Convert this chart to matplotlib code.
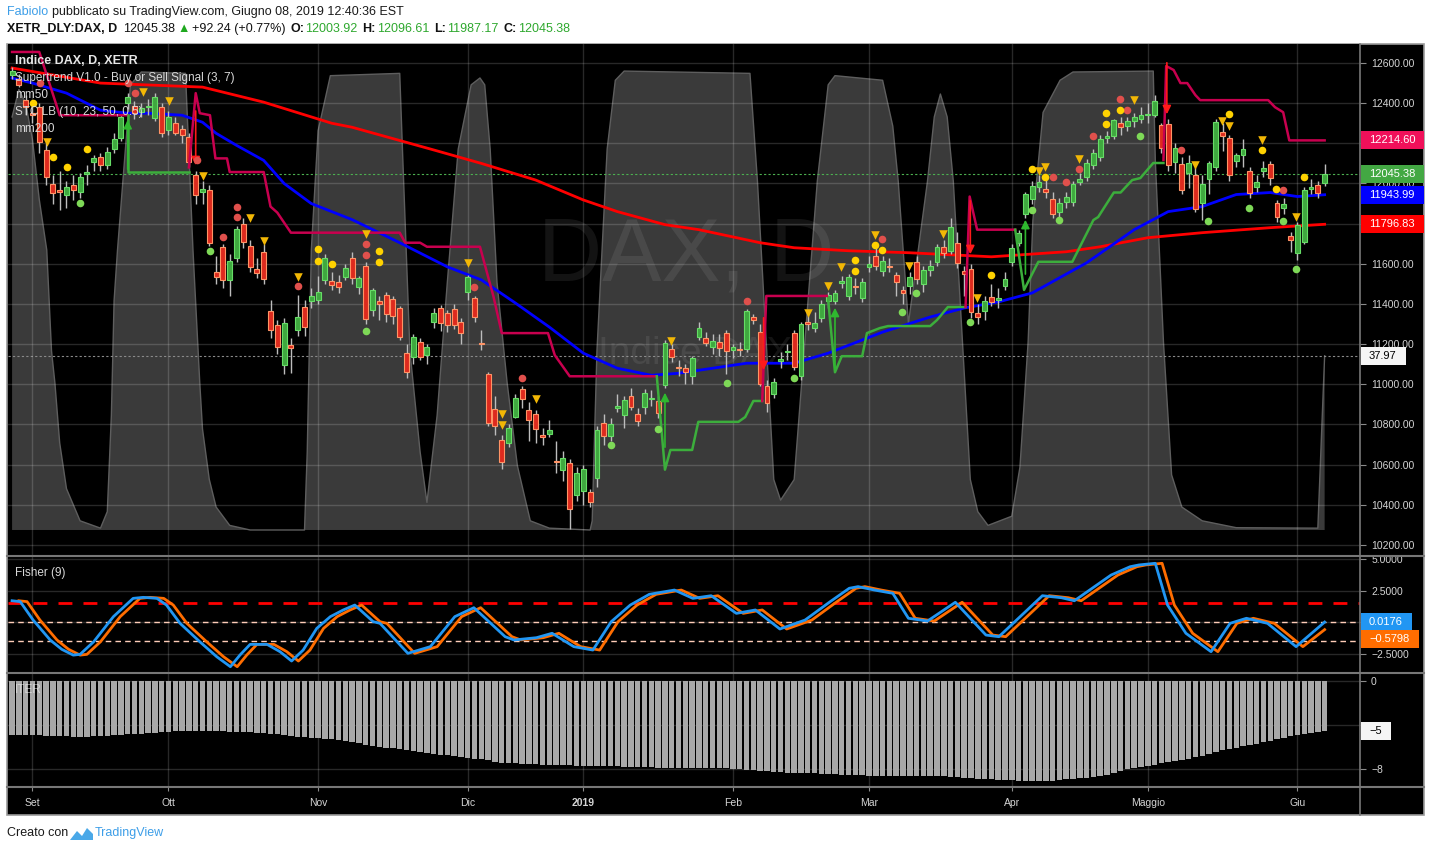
import numpy as np
import matplotlib
matplotlib.use('Agg')
import matplotlib.pyplot as plt
from matplotlib.patches import Rectangle, Polygon
from matplotlib.lines import Line2D

W, H = 1431, 851
plt.rcParams['font.family'] = ['Liberation Sans', 'DejaVu Sans']

# ---------------- data ----------------
month_idx = [3, 23, 45, 67, 84, 106, 126, 147, 167, 189]
month_lbl = ['Set', 'Ott', 'Nov', 'Dic', '2019', 'Feb', 'Mar', 'Apr', 'Maggio', 'Giu']

opens = [12540, 12520, 12415, 12350, 12380, 12165, 11995, 11965, 11945, 11990,
         11960, 12045, 12105, 12130, 12090, 12170, 12225, 12400, 12385, 12355,
         12380, 12325, 12380, 12265, 12300, 12270, 12230, 12040, 11960, 11970,
         11560, 11685, 11520, 11630, 11800, 11690, 11575, 11660, 11365, 11295,
         11095, 11195, 11270, 11385, 11415, 11420, 11520, 11515, 11510, 11535,
         11630, 11485, 11590, 11370, 11415, 11445, 11425, 11380, 11155, 11135,
         11210, 11145, 11310, 11380, 11355, 11375, 11310, 11460, 11430, 11205,
         11050, 10875, 10725, 10710, 10835, 10975, 10870, 10850, 10745, 10755,
         10615, 10575, 10610, 10450, 10470, 10465, 10535, 10805, 10745, 10880,
         10845, 10940, 10852, 10885, 10925, 10915, 10995, 11175, 11085, 11080,
         11040, 11235, 11230, 11185, 11210, 11255, 11170, 11175, 11175, 11335,
         11260, 10990, 10950, 11115, 11160, 11255, 11040, 11310, 11280, 11330,
         11415, 11415, 11505, 11440, 11490, 11430, 11585, 11640, 11565, 11590,
         11545, 11470, 11490, 11610, 11500, 11570, 11610, 11685, 11665, 11705,
         11565, 11575, 11355, 11365, 11435, 11420, 11490, 11610, 11705, 11850,
         11925, 11985, 11975, 11925, 11858, 11910, 11910, 12005, 12030, 12090,
         12130, 12225, 12235, 12300, 12285, 12310, 12320, 12340, 12340, 12290,
         12295, 12105, 12095, 12052, 12040, 11905, 12020, 12080, 12255, 12225,
         12110, 12140, 12060, 11985, 12060, 12095, 11905, 11880, 11740, 11655,
         11710, 11975, 11990, 12003.92]
highs = [12580, 12545, 12440, 12390, 12400, 12200, 12040, 12060, 12010, 12040,
         12050, 12090, 12140, 12150, 12180, 12250, 12340, 12450, 12410, 12400,
         12420, 12450, 12400, 12360, 12330, 12290, 12250, 12060, 12010, 11990,
         11640, 11700, 11650, 11790, 11830, 11720, 11630, 11700, 11420, 11320,
         11330, 11230, 11445, 11420, 11480, 11540, 11650, 11560, 11545, 11600,
         11660, 11540, 11610, 11480, 11440, 11460, 11440, 11390, 11200, 11250,
         11230, 11200, 11380, 11395, 11370, 11400, 11330, 11545, 11440, 11270,
         11060, 10940, 10750, 10800, 10950, 10990, 10910, 10870, 10780, 10820,
         10720, 10670, 10630, 10590, 10600, 10480, 10790, 10850, 10830, 10950,
         10940, 10980, 10880, 10975, 10970, 10940, 11220, 11200, 11120, 11100,
         11140, 11310, 11260, 11250, 11250, 11270, 11200, 11210, 11375, 11350,
         11300, 11020, 11030, 11160, 11200, 11270, 11310, 11350, 11360, 11420,
         11460, 11470, 11540, 11550, 11530, 11530, 11640, 11680, 11640, 11630,
         11560, 11490, 11560, 11640, 11590, 11620, 11700, 11720, 11830, 11760,
         11590, 11600, 11400, 11440, 11500, 11480, 11560, 11700, 11770, 11960,
         12010, 12040, 12020, 11960, 11930, 11960, 12010, 12050, 12120, 12170,
         12240, 12260, 12320, 12330, 12330, 12350, 12380, 12400, 12440, 12300,
         12320, 12200, 12130, 12140, 12080, 12040, 12110, 12320, 12300, 12240,
         12150, 12220, 12080, 12040, 12110, 12110, 11920, 11930, 11760, 11810,
         11985, 12020, 12010, 12096.61]
lows = [12520, 12480, 12340, 12300, 12150, 11990, 11900, 11870, 11880, 11920,
        11930, 11990, 12060, 12060, 12070, 12150, 12210, 12370, 12320, 12330,
        12340, 12310, 12230, 12240, 12240, 12200, 12080, 11900, 11900, 11690,
        11500, 11480, 11440, 11610, 11680, 11560, 11530, 11500, 11230, 11150,
        11050, 11055, 11240, 11240, 11380, 11400, 11500, 11470, 11455, 11520,
        11500, 11450, 11300, 11340, 11320, 11310, 11300, 11220, 11030, 11100,
        11120, 11100, 11280, 11265, 11260, 11275, 11200, 11420, 11310, 11170,
        10790, 10750, 10580, 10690, 10830, 10880, 10720, 10710, 10700, 10740,
        10560, 10520, 10280, 10420, 10400, 10390, 10490, 10700, 10720, 10860,
        10780, 10870, 10790, 10850, 10890, 10830, 10980, 11110, 11040, 11000,
        11000, 11220, 11190, 11150, 11140, 11050, 11130, 11140, 11160, 11300,
        10990, 10860, 10930, 11080, 11120, 11070, 11020, 11270, 11260, 11310,
        11380, 11400, 11480, 11420, 11450, 11410, 11560, 11570, 11540, 11560,
        11440, 11400, 11450, 11500, 11460, 11540, 11590, 11630, 11650, 11580,
        11440, 11330, 11300, 11320, 11390, 11380, 11470, 11590, 11690, 11830,
        11900, 11960, 11930, 11830, 11820, 11880, 11890, 11990, 12010, 12070,
        12110, 12200, 12220, 12240, 12260, 12280, 12300, 12300, 12330, 12150,
        12060, 12050, 11950, 11980, 11860, 11820, 11950, 12060, 12160, 12010,
        12080, 12080, 11930, 11960, 12030, 11990, 11810, 11850, 11660, 11620,
        11700, 11950, 11930, 11987.17]
closes = [12560, 12490, 12380, 12340, 12205, 12030, 11955, 11960, 11985, 11970,
          12030, 12055, 12125, 12090, 12155, 12220, 12330, 12430, 12350, 12375,
          12385, 12430, 12250, 12330, 12250, 12240, 12105, 11945, 11975, 11705,
          11535, 11520, 11615, 11775, 11710, 11585, 11555, 11525, 11270, 11185,
          11305, 11180, 11335, 11285, 11440, 11460, 11630, 11495, 11485, 11580,
          11527, 11530, 11325, 11470, 11400, 11350, 11340, 11235, 11060, 11235,
          11135, 11185, 11355, 11305, 11295, 11295, 11255, 11535, 11335, 11200,
          10808, 10790, 10615, 10780, 10930, 10925, 10820, 10775, 10740, 10770,
          10612, 10635, 10380, 10560, 10580, 10415, 10770, 10745, 10800, 10893,
          10920, 10885, 10815, 10955, 10932, 10855, 11205, 11135, 11082, 11060,
          11130, 11280, 11205, 11215, 11180, 11165, 11185, 11172, 11365, 11320,
          11000, 10905, 11010, 11125, 11167, 11085, 11300, 11300, 11305, 11400,
          11445, 11455, 11515, 11535, 11485, 11510, 11600, 11590, 11615, 11585,
          11510, 11455, 11535, 11525, 11570, 11590, 11685, 11655, 11785, 11605,
          11550, 11360, 11335, 11415, 11410, 11430, 11525, 11680, 11755, 11950,
          11988, 12005, 11960, 11850, 11905, 11935, 11998, 12020, 12100, 12150,
          12220, 12235, 12315, 12282, 12312, 12330, 12340, 12345, 12410, 12175,
          12090, 12175, 11970, 12102, 11875, 11995, 12100, 12305, 12235, 12040,
          12140, 12170, 11955, 12005, 12075, 12025, 11835, 11900, 11720, 11795,
          11970, 11978, 11955, 12045.38]

# moving averages (bar index, value)
mm50_i = [0, 3, 8, 13, 17, 20, 25, 28, 30, 33, 37, 40, 44, 50, 57, 64, 69, 74, 79, 84,
          89, 94, 98, 101, 108, 115, 120, 128, 135, 140, 145, 150, 158, 165, 170, 175,
          180, 185, 189, 193]
mm50_v = [12525, 12500, 12450, 12365, 12350, 12350, 12340, 12305, 12250, 12190, 12115,
          12000, 11900, 11820, 11705, 11585, 11520, 11405, 11285, 11155, 11080, 11045,
          11055, 11070, 11105, 11105, 11155, 11260, 11335, 11380, 11410, 11455, 11605,
          11770, 11860, 11885, 11945, 11955, 11935, 11943.99]
mm200_i = [0, 13, 28, 37, 47, 50, 62, 69, 77, 84, 89, 96, 101, 110, 115, 123, 132, 144,
           155, 160, 167, 175, 185, 193]
mm200_v = [12575, 12500, 12480, 12405, 12300, 12280, 12167, 12100, 12017, 11918, 11860,
           11795, 11770, 11705, 11680, 11665, 11655, 11635, 11660, 11685, 11730, 11755,
           11780, 11796.83]

# supertrend segments: (colour, bar index list, value list)
st_segments = [
    ('#c8004f', [0, 4, 7, 17], [12655, 12655, 12340, 12340]),
    ('#3cae3c', [17, 17, 26], [12340, 12057, 12057]),
    ('#c8004f', [26, 27, 27.6, 29.1, 29.9, 31.6, 32, 37, 38, 39, 41, 57, 57.8, 60, 61,
                 68.8, 70.8, 72, 78.8, 79.8, 82, 94.8],
     [12080, 12450, 12350, 12340, 12125, 12125, 12057, 12057, 11885, 11855, 11755, 11755,
      11705, 11705, 11685, 11685, 11435, 11255, 11255, 11145, 11040, 11040]),
    ('#3cae3c', [94.8, 96, 96.8, 100, 100.9, 106.8, 107.8, 109, 110.3],
     [11040, 10575, 10673, 10673, 10813, 10813, 10837, 10917, 10917]),
    ('#c8004f', [110.3, 110.9, 119.8], [10917, 11440, 11440]),
    ('#3cae3c', [120, 121, 122, 125, 125.7, 127.6, 128.8, 135, 136, 137.6, 140.2],
     [11420, 11060, 11140, 11140, 11255, 11280, 11290, 11290, 11320, 11385, 11385]),
    ('#c8004f', [140.2, 140.8, 141.9, 147.5], [11385, 11935, 11770, 11770]),
    ('#3cae3c', [147.5, 148.8, 150.9, 155.9, 159, 159.7, 162, 163, 164.7, 165.9, 167.8, 169.3],
     [11770, 11470, 11610, 11610, 11818, 11833, 11955, 11955, 12017, 12027, 12102, 12102]),
    ('#c8004f', [169.3, 169.7, 170.8, 171.8, 172.8, 174, 174.7, 184.7, 185.7, 186.9, 187.8, 193],
     [12117, 12585, 12565, 12500, 12500, 12440, 12415, 12415, 12380, 12355, 12214.6, 12214.6]),
]
sell_i = [27, 110.5, 140.9, 169.8]
sell_top = [12375, 11345, 11928, 12615]
sell_bot = [12077, 11057, 11634, 12331]
buy_i = [17, 96, 121, 149]
buy_bot = [12057, 10673, 11060, 11535]
buy_top = [12330, 10972, 11395, 11833]

# signal dots / triangles
red_i = [4.1, 17.1, 18.1, 27.2, 33.1, 33.1, 31.0, 42.1, 52.1, 52.1, 67.9, 75.0, 108.1,
         127.9, 153.1, 155.0, 156.9, 159.0, 162.9, 164.0, 171.9, 186.9]
red_p = [12500, 12500, 12450, 12117, 11883, 11833, 11734, 11490, 11699, 11644, 11485,
         11032, 11415, 11724, 12032, 12008, 12072, 12237, 12421, 12366, 12167, 11968]
yel_i = [3.1, 6.0, 11.0, 8.1, 45.0, 45.0, 47.1, 54.0, 54.0, 124.0, 124.0, 126.9, 127.9,
         144.0, 150.0, 151.9, 160.9, 160.9, 162.9, 179.0, 183.8, 185.9, 189.9]
yel_p = [12401, 12132, 12172, 12082, 11674, 11614, 11599, 11664, 11609, 11619, 11564,
         11694, 11669, 11544, 12072, 12032, 12351, 12296, 12366, 12346, 12167, 11973, 12032]
grn_i = [10.0, 29.1, 52.1, 88.1, 95.0, 105.1, 115.0, 130.9, 132.9, 140.9, 150.0, 154.0,
         165.9, 175.9, 181.9, 186.9, 188.8]
grn_p = [11903, 11664, 11266, 10698, 10778, 11007, 11032, 11360, 11455, 11310, 11868,
         11818, 12237, 11813, 11878, 11813, 11574]
tri_i = [5.1, 19.3, 23.1, 28.1, 35.0, 37.1, 42.1, 52.1, 67.1, 72.1, 72.1, 77.1, 96.9,
         117.1, 120.0, 121.9, 126.9, 131.9, 136.9, 141.9, 151.0, 151.9, 156.9, 164.9,
         174.0, 177.9, 179.0, 183.8, 188.8]
tri_p = [12207, 12456, 12411, 12037, 11828, 11714, 11535, 11749, 11604, 10852, 10797,
         10927, 11216, 11355, 11490, 11584, 11744, 11589, 11749, 11430, 12062, 12082,
         12122, 12416, 12092, 12311, 12286, 12217, 11833]

# STC (0-100), drawn as grey area
stc_i = [0, 1, 2, 3, 4, 5.1, 5.8, 6.3, 7, 8, 10, 13, 14, 14.6, 15, 15.5, 17.4, 19, 25.5,
         26.6, 27.6, 28, 29, 30, 32, 35, 43, 43.4, 44, 45, 46.8, 57, 57.4, 58.5, 60, 61,
         62.5, 64, 65.6, 67.5, 68.8, 69.5, 70.3, 71.3, 72.8, 74.3, 76.2, 79, 85, 85.3, 86,
         87.5, 88.7, 90, 108.5, 109.6, 112, 113, 115, 118.4, 120, 121, 128, 129.5, 130.3,
         131.8, 134.6, 135.6, 136.5, 137.5, 138.4, 140.9, 142, 143.5, 147, 148.2, 149.4,
         150.1, 151.6, 154.1, 156, 167.8, 168.1, 169.3, 170.5, 172, 175, 180, 192, 193]
stc_v = [90, 96, 93, 85, 72, 61, 39, 32, 19, 9, 2, 0.4, 4, 25, 50, 61, 97, 99.8, 99.5,
         61, 32, 22, 11, 5, 1, 0, 0, 17, 61, 87, 99, 99.5, 83, 39, 17, 6, 25, 54, 83, 97,
         98.5, 97, 83, 54, 32, 14, 2, 0.4, 0, 2, 39, 83, 98, 100, 99.5, 76, 11, 6.5, 11, 76,
         97, 99, 98, 88, 76, 45, 76, 90, 95, 90, 76, 11, 4, 1, 3, 13.7, 41, 67.5, 91, 98,
         99.8, 100, 80.6, 41, 12, 5, 2, 0.5, 0.4, 37.97]

# Fisher (9)
fish_i = [0, 1.2, 3.1, 5.6, 7.3, 9, 10, 12, 14.9, 17.8, 19.3, 21.3, 22.7, 24.7, 27.6, 30.1,
          32.1, 33.5, 35, 37.5, 39.4, 41.1, 42.8, 44.8, 46.8, 48.7, 50.4, 53.1, 54.1, 58.2,
          61.5, 65.1, 67.9, 72.5, 73.8, 77.1, 79.4, 82.6, 85.4, 88.1, 90.9, 93.7, 97.4,
          100.1, 102.8, 106.5, 109.3, 112.9, 116.6, 120.3, 123.1, 124.4, 126.8, 129.5,
          131.8, 134.6, 138.7, 143.2, 145.1, 151.5, 154.3, 156.2, 161.6, 164.4, 165.7,
          168.1, 169.9, 172.6, 176.3, 179.1, 181.5, 184.6, 188.8, 193]
fish_v = [1.71, 1.64, 0.18, -1.40, -2.14, -2.60, -2.54, -1.54, 0.45, 1.90, 1.98, 1.90, 1.37,
          -0.08, -1.54, -2.73, -3.52, -2.60, -1.75, -1.75, -2.33, -3.07, -2.20, -0.48, 0.45,
          0.98, 1.37, 0.05, -0.08, -2.46, -1.93, 0.45, 1.16, -1.14, -1.40, -1.22, -0.87,
          -1.93, -2.20, 0.05, 1.37, 2.22, 2.56, 1.90, 2.11, 0.71, 0.98, -0.53, 0.18, 1.64,
          2.70, 2.83, 2.56, 2.30, 0.32, 0.10, 1.59, -1.01, -1.14, 2.11, 1.95, 1.71, 3.75,
          4.41, 4.55, 4.68, 1.37, -0.87, -2.33, -0.08, 0.32, -0.08, -1.93, 0.0176]
trig_last = -0.5798

# ITER histogram
iter_v = [-4.89, -4.89, -4.90, -4.90, -4.92, -4.95, -4.98, -5.00, -5.02, -5.03,
          -5.04, -5.04, -5.02, -5.00, -4.97, -4.93, -4.88, -4.83, -4.80, -4.76,
          -4.72, -4.68, -4.63, -4.59, -4.57, -4.56, -4.55, -4.54, -4.53, -4.53,
          -4.54, -4.56, -4.59, -4.61, -4.63, -4.65, -4.68, -4.73, -4.78, -4.84,
          -4.89, -4.96, -5.04, -5.09, -5.14, -5.19, -5.23, -5.28, -5.35, -5.43,
          -5.50, -5.65, -5.80, -5.88, -5.95, -6.03, -6.10, -6.18, -6.25, -6.35,
          -6.45, -6.55, -6.60, -6.66, -6.73, -6.80, -6.88, -6.95, -7.02, -7.09,
          -7.19, -7.30, -7.40, -7.43, -7.46, -7.49, -7.52, -7.55, -7.57, -7.59,
          -7.61, -7.63, -7.64, -7.66, -7.67, -7.69, -7.70, -7.71, -7.72, -7.74,
          -7.75, -7.76, -7.78, -7.80, -7.82, -7.85, -7.85, -7.85, -7.85, -7.85,
          -7.85, -7.86, -7.86, -7.87, -7.87, -7.88, -7.93, -7.97, -8.02, -8.06,
          -8.12, -8.18, -8.24, -8.28, -8.30, -8.32, -8.33, -8.34, -8.36, -8.39,
          -8.42, -8.45, -8.48, -8.51, -8.53, -8.55, -8.56, -8.58, -8.58, -8.58,
          -8.58, -8.58, -8.58, -8.59, -8.59, -8.60, -8.60, -8.60, -8.65, -8.70,
          -8.76, -8.81, -8.84, -8.88, -8.91, -8.94, -8.97, -9.00, -9.02, -9.04,
          -9.06, -9.05, -9.04, -9.03, -8.97, -8.92, -8.86, -8.81, -8.74, -8.66,
          -8.59, -8.51, -8.34, -8.17, -8.00, -7.89, -7.78, -7.68, -7.57, -7.46,
          -7.35, -7.24, -7.13, -7.02, -6.91, -6.75, -6.58, -6.42, -6.25, -6.14,
          -6.03, -5.92, -5.81, -5.71, -5.57, -5.42, -5.28, -5.13, -5.02, -4.90,
          -4.79, -4.68, -4.60, -4.53]

# axis ticks; labels hidden behind the value boxes are left empty
price_ticks = [10200, 10400, 10600, 10800, 11000, 11200, 11400, 11600, 11800, 12000, 12200, 12400, 12600]
price_lbls = ['10200.00', '10400.00', '10600.00', '10800.00', '11000.00', '11200.00', '11400.00',
              '11600.00', '', '12000.00', '', '12400.00', '12600.00']
fish_ticks = [5, 2.5, 0, -2.5]
fish_lbls = ['5.0000', '2.5000', '', '\u22122.5000']
iter_ticks = [0, -4, -8]
iter_lbls = ['0', '', '\u22128']

# ---------------- figure ----------------
fig = plt.figure(figsize=(W / 100, H / 100), dpi=100, facecolor='white')


def fx(x):
    return x / W


def fy(y):
    return 1 - y / H


def panel(top, bottom):
    return [fx(8), fy(bottom), fx(1360) - fx(8), (bottom - top) / H]


fig.add_artist(Rectangle((fx(7), fy(815)), fx(1424) - fx(7), (815 - 44) / H,
                         transform=fig.transFigure, facecolor='black',
                         edgecolor='#9a9a9a', lw=1.2, zorder=-5))

ax_stc = fig.add_axes(panel(44, 555), facecolor='black')
ax = fig.add_axes(panel(44, 555), facecolor='none', sharex=ax_stc)
ax_f = fig.add_axes(panel(557, 672), facecolor='black', sharex=ax_stc)
ax_it = fig.add_axes(panel(674, 787), facecolor='black', sharex=ax_stc)

ax_stc.set_xlim(-0.6, 198.2)
ax_stc.set_ylim(-5.45, 105.9)
ax.set_ylim(10150, 12694.6)
ax_f.set_ylim(-3.94, 5.18)
ax_it.set_ylim(-9.6, 0.63)

for a in (ax_stc, ax, ax_f, ax_it):
    for s in a.spines.values():
        s.set_visible(False)
ax_stc.set_xticks(month_idx)

# STC grey area + watermark (behind price panel)
ax_stc.fill_between(stc_i, 0, stc_v, facecolor='#3a3a3a', edgecolor='none', zorder=1)
ax_stc.plot(stc_i, stc_v, color='#5e5e5e', lw=1, zorder=1.5)
ax_stc.axhline(stc_v[-1], color='#8a8a8a', lw=0.8, ls=(0, (2, 2)), zorder=1.6)
ax_stc.text(fx(686), fy(258), 'DAX, D', transform=fig.transFigure, fontsize=64,
            color='white', alpha=0.08, ha='center', va='center', zorder=2)
ax_stc.text(fx(695), fy(354), 'Indice DAX', transform=fig.transFigure, fontsize=28,
            color='white', alpha=0.08, ha='center', va='center', zorder=2)
ax_stc.set_yticks([])
ax_stc.tick_params(axis='x', length=0, labelbottom=False)

# price panel grid + axis
ax.set_axisbelow(True)
ax.grid(color='white', alpha=0.16, lw=1)
ax.yaxis.tick_right()
ax.set_yticks(price_ticks)
ax.set_yticklabels(price_lbls)
ax.tick_params(axis='y', colors='#8a8a8a', labelcolor='#d4d4d4', labelsize=7.5, length=4, pad=4)
ax.tick_params(axis='x', length=0, labelbottom=False)

# moving averages
ax.plot(mm200_i, mm200_v, color='#ff0000', lw=2, zorder=3)
ax.plot(mm50_i, mm50_v, color='#0000ff', lw=2, zorder=3)
ax.axhline(closes[-1], color='#4caf50', lw=0.8, ls=(0, (2, 2)), zorder=2)

# candles
o = np.array(opens)
c = np.array(closes)
hi = np.array(highs)
lo = np.array(lows)
idx = np.arange(len(c))
up = c > o
b_lo = np.minimum(o, c)
b_h = np.maximum(np.abs(c - o), 6)
ax.vlines(idx, lo, hi, color='#bdbdbd', lw=1, zorder=4)
ax.bar(idx[up], b_h[up], bottom=b_lo[up], width=0.72, color='#3fa83f',
       edgecolor='#66dd66', lw=0.8, zorder=5)
ax.bar(idx[~up], b_h[~up], bottom=b_lo[~up], width=0.72, color='#dd2a1e',
       edgecolor='#ff9466', lw=0.8, zorder=5)

# supertrend
for col, si, sv in st_segments:
    ax.plot(si, sv, color=col, lw=1.8, zorder=6)
for i, t, b in zip(sell_i, sell_top, sell_bot):
    ax.annotate('', xy=(i, b), xytext=(i, t), zorder=7,
                arrowprops=dict(arrowstyle='-|>,head_length=0.5,head_width=0.25',
                                color='#ff1a1a', lw=1.2))
for i, t, b in zip(buy_i, buy_top, buy_bot):
    ax.annotate('', xy=(i, t), xytext=(i, b), zorder=7,
                arrowprops=dict(arrowstyle='-|>,head_length=0.5,head_width=0.25',
                                color='#2fb82f', lw=1.2))

# signal markers
ax.scatter(red_i, red_p, s=30, color='#e0504c', zorder=8, linewidths=0)
ax.scatter(yel_i, yel_p, s=30, color='#ffd200', zorder=8, linewidths=0)
ax.scatter(grn_i, grn_p, s=30, color='#7ed957', zorder=8, linewidths=0)
ax.scatter(tri_i, tri_p, s=38, marker='v', color='#f2b705', zorder=8, linewidths=0)

# Fisher panel
ax_f.set_axisbelow(True)
ax_f.grid(color='white', alpha=0.16, lw=1)
ax_f.yaxis.tick_right()
ax_f.set_yticks(fish_ticks)
ax_f.set_yticklabels(fish_lbls)
ax_f.tick_params(axis='y', colors='#8a8a8a', labelcolor='#d4d4d4', labelsize=7.5, length=4, pad=4)
ax_f.tick_params(axis='x', length=0, labelbottom=False)
ax_f.axhline(1.5, color='#ff0000', lw=2, ls=(0, (5, 4)), zorder=2)
ax_f.axhline(0, color='#ffcdb8', lw=1, ls=(0, (4, 3)), zorder=2)
ax_f.axhline(-1.5, color='#ffcdb8', lw=1, ls=(0, (4, 3)), zorder=2)
fi = np.array(fish_i)
fv = np.array(fish_v)
ax_f.plot(np.append(fi[:-1] + 1, 193), np.append(fv[:-1], trig_last), color='#ff6d00', lw=2, zorder=3)
ax_f.plot(fi, fv, color='#2196f3', lw=2, zorder=4)

# ITER panel
ax_it.set_axisbelow(True)
ax_it.grid(color='white', alpha=0.16, lw=1)
ax_it.bar(idx, iter_v, width=0.8, color='#a8a8a8', edgecolor='none', zorder=2)
ax_it.yaxis.tick_right()
ax_it.set_yticks(iter_ticks)
ax_it.set_yticklabels(iter_lbls)
ax_it.tick_params(axis='y', colors='#8a8a8a', labelcolor='#d4d4d4', labelsize=7.5, length=4, pad=4)
ax_it.set_xticklabels(month_lbl)
ax_it.tick_params(axis='x', colors='#8a8a8a', labelcolor='#d4d4d4', labelsize=7.5,
                  length=3, pad=5)
ax_it.get_xticklabels()[4].set_fontweight('bold')

# panel separators
for yy in (556, 673, 787):
    fig.add_artist(Line2D([fx(7), fx(1424)], [fy(yy), fy(yy)], transform=fig.transFigure,
                          color='#777777', lw=1.5))
fig.add_artist(Line2D([fx(1360), fx(1360)], [fy(44), fy(815)], transform=fig.transFigure,
                      color='#777777', lw=1.2))


# coloured value boxes on the right axis
def vbox(a, val, txt, bg, fg, w, dy=0):
    yd = a.transData.transform((0, val))[1] - dy
    fig.add_artist(Rectangle((fx(1361), (yd - 9) / H), w / W, 18 / H, transform=fig.transFigure,
                             facecolor=bg, edgecolor='none', zorder=5))
    fig.text(fx(1369), yd / H, txt, color=fg, fontsize=8, va='center', ha='left', zorder=6)


vbox(ax, 12214.60, '12214.60', '#f0105a', 'white', 63)
vbox(ax, 12045.38, '12045.38', '#43a843', 'white', 63)
vbox(ax, 11943.99, '11943.99', '#0000ff', 'white', 63)
vbox(ax, 11796.83, '11796.83', '#ff0000', 'white', 63)
vbox(ax_stc, stc_v[-1], '37.97', '#f5f5f5', 'black', 45)
vbox(ax_f, fish_v[-1], '0.0176', '#2196f3', 'white', 51)
vbox(ax_f, trig_last, '\u22120.5798', '#ff6d00', 'white', 58, dy=9)
vbox(ax_it, iter_v[-1], '\u22125', '#f5f5f5', 'black', 30)

# legends inside the panels
fig.text(fx(15), fy(61), 'Indice DAX, D, XETR', color='#e8e8e8', fontsize=9, fontweight='bold', va='center')
leg = ['Supertrend V1.0 - Buy or Sell Signal (3, 7)', 'mm50', 'STC LB (10, 23, 50, 0.5)', 'mm200']
for k, s in enumerate(leg):
    fig.text(fx(15), fy(78 + 17 * k), s, color='#d8d8d8', fontsize=8.5, va='center')
fig.text(fx(15), fy(573), 'Fisher (9)', color='#d8d8d8', fontsize=8.5, va='center')
fig.text(fx(15), fy(690), 'ITER', color='white', alpha=0.55, fontsize=8.5, va='center')


# header / footer text runs
def chain(x, y, parts, size):
    r = fig.canvas.get_renderer()
    for s, col, wt, gap in parts:
        t = fig.text(fx(x), fy(y), s, color=col, fontsize=size, fontweight=wt, va='center', ha='left')
        x += t.get_window_extent(r).width + gap


green = '#2ea82e'
chain(7, 12, [('Fabiolo', '#3d9ee8', 'normal', 4),
              ('pubblicato su TradingView.com, Giugno 08, 2019 12:40:36 EST', '#1a1a1a', 'normal', 0)], 9)
chain(7, 29, [('XETR_DLY:DAX, D', '#111111', 'bold', 6),
              ('12045.38', '#111111', 'normal', 2),
              ('\u25b2', '#1fa81f', 'normal', 2),
              ('+92.24 (+0.77%)', '#111111', 'normal', 5),
              ('O:', '#111111', 'bold', 1), ('12003.92', green, 'normal', 5),
              ('H:', '#111111', 'bold', 1), ('12096.61', green, 'normal', 5),
              ('L:', '#111111', 'bold', 1), ('11987.17', green, 'normal', 5),
              ('C:', '#111111', 'bold', 1), ('12045.38', green, 'normal', 0)], 9)
chain(7, 833, [('Creato con', '#1a1a1a', 'normal', 26), ('TradingView', '#3d9ee8', 'normal', 0)], 9)
logo = [(70, 840), (77, 831), (82, 836), (87, 828), (93, 834), (93, 840)]
fig.add_artist(Polygon([(fx(px), fy(py)) for px, py in logo], closed=True,
                       transform=fig.transFigure, facecolor='#4aa8e8', edgecolor='none'))

fig.savefig('out.png', dpi=100, facecolor='white')
